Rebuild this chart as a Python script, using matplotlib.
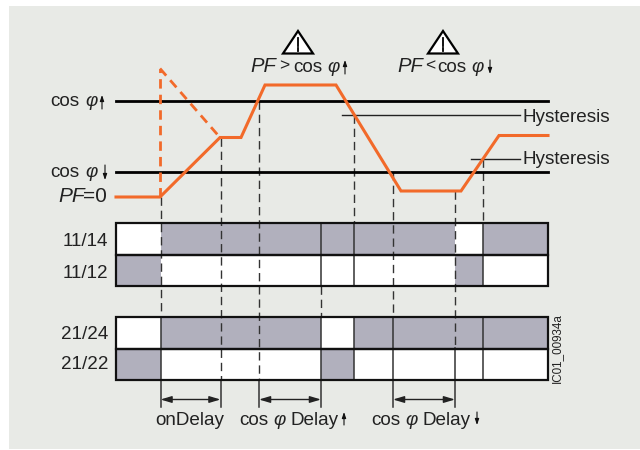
import matplotlib
matplotlib.use('Agg')
import matplotlib.pyplot as plt
from matplotlib.patches import Rectangle, Polygon

curve_x = [116, 160, 220, 241, 265, 336, 401, 461, 499, 548]
curve_y = [197, 197, 137.5, 137.5, 85, 85, 191, 191, 135.5, 135.5]
apex_x = 160
apex_y = 68.5

level_y = [100.5, 172]
hyst_y = [114.5, 158.5]
hyst_base = [122.5, 164.5]
hyst_start = [342, 470.5]

# switching times
t_edges = [116, 160.5, 220.5, 259, 321, 353.5, 393, 455, 483, 548]

# dashed droplines: x, from, to
dash_x = [160.5, 220.5, 259, 321, 353.5, 393, 455, 483]
dash_top = [197, 137.5, 100.5, 286, 114.5, 172, 191, 158.5]
dash_end = [317, 380, 380, 317, 223, 317, 348, 223]

# solid pieces of the droplines: x, from, to
solid_x = [160.5, 220.5, 259, 321, 321, 353.5, 353.5, 393, 455, 483, 483]
solid_top = [317, 380, 380, 223, 317, 223, 317, 317, 348, 223, 317]
solid_end = [407, 407, 407, 286, 407, 286, 380, 407, 407, 286, 380]

relay_names = ['11/14', '11/12', '21/24', '21/22']
relay_top = [223, 254.5, 317, 348.5]
relay_base = [246.5, 278, 339, 369]
relay_h = 31.5
# 1 = grey for the interval between two switching times
relay_state = [
    [0, 1, 1, 1, 1, 1, 1, 0, 1],
    [1, 0, 0, 0, 0, 0, 0, 1, 0],
    [0, 1, 1, 1, 0, 1, 1, 1, 1],
    [1, 0, 0, 0, 1, 0, 0, 0, 0],
]

delay_from = [160.5, 259, 393]
delay_to = [220.5, 321, 455]

ORANGE = '#f26a2a'
GREY = '#b1b0bd'
BG = '#e8eae6'
TXT = '#222222'
FS = 13.6

plt.rcParams['font.family'] = ['Liberation Sans', 'DejaVu Sans']

fig = plt.figure(figsize=(6.4, 4.5), dpi=100, facecolor='white')
ax = fig.add_axes([0, 0, 1, 1])
ax.set_xlim(0, 640)
ax.set_ylim(450, 0)
ax.axis('off')
ax.add_patch(Rectangle((9, 6), 631, 443, fc=BG, ec='none', zorder=0))


def small_arrow(x, y0, y1):
    ax.annotate('', xy=(x, y1), xytext=(x, y0), zorder=7,
                arrowprops=dict(arrowstyle='-|>,head_length=0.35,head_width=0.12', color='#111111',
                                lw=0.8, mutation_scale=10, shrinkA=0, shrinkB=0))


def cos_phi(x_cos, x_phi, y, fs=FS):
    ax.text(x_cos, y, 'cos', ha='left', va='baseline', fontsize=fs, color=TXT)
    ax.text(x_phi, y, 'φ', ha='left', va='baseline', fontsize=fs, style='italic', color=TXT)


# relay boxes
for name, top, base, state in zip(relay_names, relay_top, relay_base, relay_state):
    for i, s in enumerate(state):
        ax.add_patch(Rectangle((t_edges[i], top), t_edges[i+1] - t_edges[i], relay_h,
                               fc=GREY if s else 'white', ec='none', zorder=1))
    ax.add_patch(Rectangle((116, top), 432, relay_h, fc='none', ec='#111111', lw=1.6, zorder=4))
    ax.text(108.5, base, name, ha='right', va='baseline', fontsize=FS, color=TXT)

# droplines
for x, top, end in zip(dash_x, dash_top, dash_end):
    ax.plot([x, x], [top, end], color='#333333', lw=1.0, dashes=(6, 3.5), zorder=3)
for x, top, end in zip(solid_x, solid_top, solid_end):
    ax.plot([x, x], [top, end], color='#333333', lw=1.1, zorder=3)

# levels and hysteresis
for y in level_y:
    ax.plot([116, 548], [y, y], color='black', lw=2.0, zorder=3)
cos_phi(50, 85, 105.5)
cos_phi(50, 85, 177)
small_arrow(102, 109, 95)
small_arrow(105, 165, 180)

for y, x0, base in zip(hyst_y, hyst_start, hyst_base):
    ax.plot([x0, 520], [y, y], color='#222222', lw=1.0, zorder=3)
    ax.text(523, base, 'Hysteresis', ha='left', va='baseline', fontsize=FS, color=TXT)

ax.text(58, 202.5, 'PF', ha='left', va='baseline', fontsize=15, style='italic', color=TXT)
ax.text(107, 202.5, '=0', ha='right', va='baseline', fontsize=15, color=TXT)

# power factor curve
ax.plot([curve_x[1], apex_x], [curve_y[1], apex_y], color=ORANGE, lw=2.0, dashes=(3.4, 2.2), zorder=5)
ax.plot([apex_x, curve_x[2]], [apex_y, curve_y[2]], color=ORANGE, lw=2.0, dashes=(3.4, 2.2), zorder=5)
ax.plot(curve_x, curve_y, color=ORANGE, lw=2.2, solid_joinstyle='miter', zorder=6)

# warning signs with their labels
sign_x = [298, 443]
pf_x = [250, 397]
cmp_text = ['>', '<']
cmp_x = [279, 425]
cos_x = [293, 437]
phi_x = [327, 471]
for i in range(2):
    cx = sign_x[i]
    ax.add_patch(Polygon([(cx - 15, 53.5), (cx, 31), (cx + 15, 53.5)], closed=True,
                         fc='white', ec='black', lw=1.6, zorder=5))
    ax.plot([cx, cx], [38, 46], color='black', lw=1.3, zorder=6)
    ax.plot([cx, cx], [48, 50.5], color='black', lw=1.3, zorder=6)
    ax.text(pf_x[i], 71.5, 'PF', ha='left', va='baseline', fontsize=FS + 1, style='italic', color=TXT)
    ax.text(cmp_x[i], 70, cmp_text[i], ha='left', va='baseline', fontsize=FS - 1, color=TXT)
    cos_phi(cos_x[i], phi_x[i], 71.5)
small_arrow(345, 74, 60)
small_arrow(490, 60, 74)

# delay arrows
for x0, x1 in zip(delay_from, delay_to):
    ax.annotate('', xy=(x1, 399.5), xytext=(x0, 399.5), zorder=5,
                arrowprops=dict(arrowstyle='<|-|>,head_length=0.6,head_width=0.18', color='#222222',
                                lw=1.0, mutation_scale=11, shrinkA=0, shrinkB=0))

ax.text(189.5, 425, 'onDelay', ha='center', va='baseline', fontsize=FS, color=TXT)
cos_phi(239, 273, 425)
ax.text(291, 425, 'Delay', ha='left', va='baseline', fontsize=FS, color=TXT)
small_arrow(344, 425, 412)
cos_phi(371, 405, 425)
ax.text(423, 425, 'Delay', ha='left', va='baseline', fontsize=FS, color=TXT)
small_arrow(477, 412, 425)

ax.text(556.5, 348.5, 'IC01_00934a', rotation=90, ha='center', va='center', fontsize=8.4, color=TXT)

fig.savefig('out.png', dpi=100, facecolor='white')
